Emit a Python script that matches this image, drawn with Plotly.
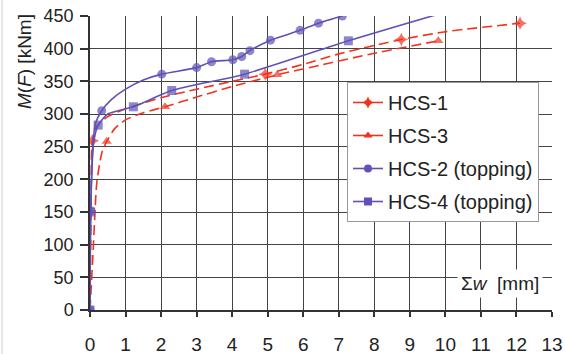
import plotly.graph_objects as go

# ---- data ----
hcs1_x = [0, 0.03, 0.065, 0.2, 0.5, 1.0, 2.0, 3.0, 4.0, 4.93, 6.0, 7.0, 8.76, 10.0, 12.1]
hcs1_y = [0, 150, 259, 282, 296, 308, 325, 338, 350, 361, 376, 392, 414, 426, 439]
hcs1_mk = [0, 0, 1, 0, 0, 0, 0, 0, 0, 1, 0, 0, 1, 0, 1]

hcs3_x = [0, 0.09, 0.19, 0.33, 0.47, 0.7, 1.0, 1.5, 2.11, 3.0, 4.0, 5.27, 6.5, 8.0, 9.8]
hcs3_y = [0, 92, 194, 240, 258, 278, 291, 302, 311, 326, 342, 360, 375, 393, 412]
hcs3_mk = [0, 0, 0, 0, 1, 0, 0, 0, 1, 0, 0, 1, 0, 0, 1]

hcs2_x = [0, 0.02, 0.08, 0.15, 0.33, 0.6, 1.0, 1.5, 2.02, 3.0, 3.42, 4.02, 4.27, 4.5, 5.08, 5.91, 6.43, 7.1]
hcs2_y = [0, 152, 250, 285, 305, 322, 338, 352, 361, 371, 380, 383, 388, 397, 413, 428, 439, 450]
hcs2_mk = [1, 1, 0, 0, 1, 0, 0, 0, 1, 1, 1, 1, 1, 1, 1, 1, 1, 1]

hcs4_x = [0, 0.02, 0.1, 0.23, 0.5, 1.22, 2.3, 4.35, 7.27, 9.75]
hcs4_y = [0, 150, 255, 283, 300, 311, 336, 361, 412, 452]
hcs4_mk = [1, 1, 0, 1, 0, 1, 1, 1, 1, 0]

x_ticks = list(range(0, 14))
y_ticks = list(range(0, 451, 50))

RED = "#f2321e"
BLUE = "#5e52b8"
FONT = "Liberation Sans, Arial, sans-serif"
DASH = "10px,5px"

fig = go.Figure()

def add(name, xs, ys, mk, color, dash, symbol, size, group):
    fig.add_trace(go.Scatter(
        x=xs, y=ys, name=name, mode="lines+markers",
        line=dict(color=color, width=1.6, dash=dash, shape="spline", smoothing=0.6),
        marker=dict(symbol=symbol, color=color, size=[size * m for m in mk],
                    line=dict(width=0)),
        legendgroup=group, showlegend=False, cliponaxis=True,
    ))
    # legend entry
    fig.add_trace(go.Scatter(
        x=[None], y=[None], name=name, mode="lines+markers",
        line=dict(color=color, width=1.6, dash="solid"),
        marker=dict(symbol=symbol, color=color, size=size - 1, line=dict(width=0)),
        legendgroup=group, showlegend=True,
    ))

add("HCS-1", hcs1_x, hcs1_y, hcs1_mk, RED, DASH, "star-diamond", 10, "a")
add("HCS-3", hcs3_x, hcs3_y, hcs3_mk, RED, DASH, "triangle-up", 9, "b")
add("HCS-2 (topping)", hcs2_x, hcs2_y, hcs2_mk, BLUE, "solid", "circle", 9, "c")
add("HCS-4 (topping)", hcs4_x, hcs4_y, hcs4_mk, BLUE, "solid", "square", 9, "d")

fig.update_layout(
    width=565, height=354,
    margin=dict(l=90, r=13, t=16, b=44),
    paper_bgcolor="white", plot_bgcolor="white",
    font=dict(family=FONT, size=18, color="#222"),
    showlegend=True,
    legend=dict(
        x=(347 - 90) / 462, y=(310 - 82) / 294, xanchor="left", yanchor="top",
        bgcolor="white", bordercolor="#999", borderwidth=1,
        font=dict(family=FONT, size=20, color="#222"),
        tracegroupgap=4, itemwidth=30,
    ),
    xaxis=dict(
        range=[0, 13], tickvals=x_ticks, ticktext=[str(v) for v in x_ticks],
        showgrid=True, gridcolor="#444", gridwidth=1,
        showline=True, linecolor="#333", linewidth=1.5,
        ticks="outside", ticklen=5, tickcolor="#333", tickwidth=1.5,
        ticklabelstandoff=11, zeroline=False, automargin=False,
        tickfont=dict(size=19),
    ),
    yaxis=dict(
        range=[0, 450], tickvals=y_ticks, ticktext=[str(v) for v in y_ticks],
        showgrid=True, gridcolor="#444", gridwidth=1,
        showline=True, linecolor="#333", linewidth=1.5,
        ticks="outside", ticklen=8, tickcolor="#333", tickwidth=1.5,
        zeroline=False, ticklabelstandoff=3, automargin=False,
    ),
    annotations=[
        dict(text="<i>M</i>(<i>F</i>) [kNm]", xref="paper", yref="paper",
             x=(25 - 90) / 462, y=(310 - 62) / 294, textangle=-90,
             showarrow=False, font=dict(family=FONT, size=19, color="#222"),
             xanchor="center", yanchor="middle"),
        dict(text="Σ<i>w</i>  [mm]", xref="x", yref="y",
             x=12.75, y=41, xanchor="right", yanchor="middle",
             showarrow=False, bgcolor="white", borderpad=3,
             font=dict(family=FONT, size=19, color="#222")),
    ],
    shapes=[
        dict(type="line", xref="paper", yref="paper",
             x0=(2 - 90) / 462, x1=(2 - 90) / 462, y0=-44 / 294, y1=(310) / 294,
             line=dict(color="#cccccc", width=1)),
    ],
)

fig.write_html(
    "out.html",
    config={"displayModeBar": False},
    post_script="document.body.style.margin='0';document.body.style.padding='0';document.body.style.overflow='hidden';",
)
